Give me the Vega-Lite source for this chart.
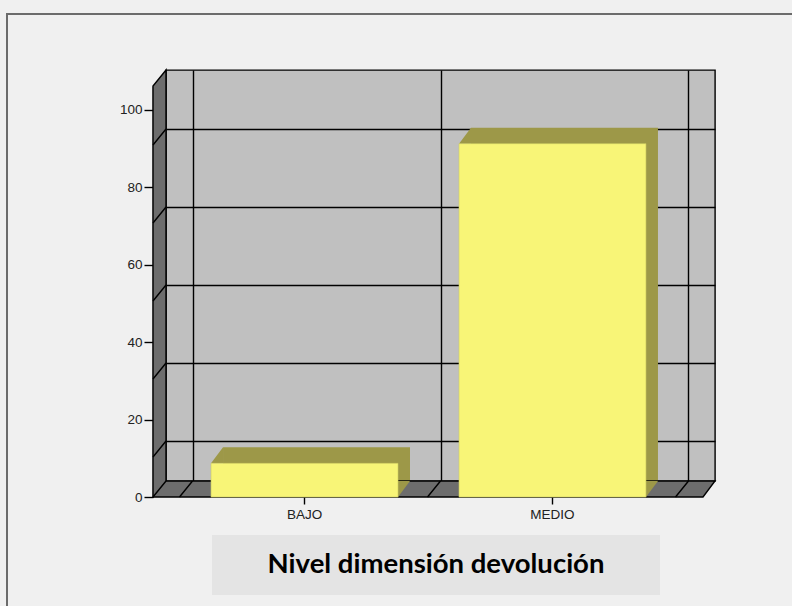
{
  "$schema": "https://vega.github.io/schema/vega-lite/v6.json",
  "width": 549,
  "height": 411,
  "autosize": {"type": "none"},
  "padding": {"left": 166, "top": 70, "right": 77, "bottom": 125},
  "background": "#f0f0f0",
  "config": {
    "view": {"fill": "#c0c0c0", "stroke": "#000000", "strokeWidth": 1.4},
    "axis": {"labelFont": "Liberation Sans", "labelFontSize": 13.5, "labelColor": "#222222", "tickColor": "#000000", "domainColor": "#000000", "domainWidth": 1.4, "gridColor": "#000000", "gridOpacity": 1, "gridWidth": 1.4}
  },
  "data": {"values": [{"nivel": "BAJO", "porcentaje": 8.7}, {"nivel": "MEDIO", "porcentaje": 91.3}]},
  "resolve": {"axis": {"x": "independent", "y": "independent"}},
  "layer": [
    {
      "data": {"values": [{}]},
      "mark": {"type": "point", "shape": "M-433.5,125L-433.5,-467L352,-467", "size": 4, "filled": false, "stroke": "#6b6b6b", "strokeWidth": 2, "opacity": 1},
      "encoding": {"y": {"datum": 0, "type": "quantitative", "axis": null, "scale": {"domain": [0, 106.2], "nice": false, "zero": false}}}
    },
    {
      "mark": {"type": "bar", "fill": "#9d9848", "width": {"band": 0.754}},
      "encoding": {
        "x": {"field": "nivel", "type": "nominal", "sort": ["BAJO", "MEDIO"], "scale": {"domain": ["BAJO", "MEDIO"], "paddingInner": 0, "paddingOuter": 0.107},
          "axis": {"orient": "bottom", "grid": true, "tickBand": "extent", "labels": false, "ticks": false, "domain": false, "title": null}},
        "y": {"field": "porcentaje", "type": "quantitative", "scale": {"domain": [0, 106.2], "nice": false, "zero": false},
          "axis": {"orient": "left", "grid": true, "values": [10.34, 30.49, 50.65, 70.8, 90.96], "labels": false, "ticks": false, "domain": false, "title": null}}
      }
    },
    {
      "data": {"values": [{}]},
      "mark": {"type": "point", "shape": "M-287.5,16L-287.5,-395L-274.5,-411L-274.5,0L274.5,0L262.5,16Z", "size": 4, "filled": true, "fill": "#6d6d6d", "stroke": "#000000", "strokeWidth": 1.4, "opacity": 1},
      "encoding": {"y": {"datum": 0, "type": "quantitative", "axis": null, "scale": {"domain": [0, 106.2], "nice": false, "zero": false}}}
    },
    {
      "data": {"values": [{}]},
      "mark": {"type": "point", "shape": "M-287.5,16L-274.5,0M-261,16L-248,0M-13,16L0,0M235,16L248,0M-287.5,-336L-274.5,-352M-287.5,-258L-274.5,-274M-287.5,-180L-274.5,-196M-287.5,-102L-274.5,-118M-287.5,-24L-274.5,-40", "size": 4, "filled": false, "stroke": "#000000", "strokeWidth": 1.4, "opacity": 1},
      "encoding": {"y": {"datum": 0, "type": "quantitative", "axis": null, "scale": {"domain": [0, 106.2], "nice": false, "zero": false}}}
    },
    {
      "mark": {"type": "point", "shape": "M-105.5,16L-93.5,0L-93.5,16Z", "size": 4, "filled": true, "fill": "#9d9848", "strokeWidth": 0, "opacity": 1},
      "encoding": {
        "x": {"field": "nivel", "type": "nominal", "sort": ["BAJO", "MEDIO"], "scale": {"domain": ["BAJO", "MEDIO"], "paddingInner": 0, "paddingOuter": 0.107}, "axis": null},
        "y": {"field": "porcentaje", "type": "quantitative", "scale": {"domain": [0, 106.2], "nice": false, "zero": false}, "axis": null}
      }
    },
    {
      "mark": {"type": "point", "shape": "M81.5,0L93.5,0L81.5,16Z", "size": 4, "filled": true, "fill": "#9d9848", "strokeWidth": 0, "opacity": 1},
      "encoding": {
        "x": {"field": "nivel", "type": "nominal", "sort": ["BAJO", "MEDIO"], "scale": {"domain": ["BAJO", "MEDIO"], "paddingInner": 0, "paddingOuter": 0.107}, "axis": null},
        "y": {"datum": 0, "type": "quantitative", "scale": {"domain": [0, 106.2], "nice": false, "zero": false}, "axis": null}
      }
    },
    {
      "mark": {"type": "bar", "fill": "#f8f577", "width": {"band": 0.754}, "xOffset": -12, "yOffset": 16, "y2Offset": 16, "stroke": "#cfcc62", "strokeWidth": 0.6},
      "encoding": {
        "x": {"field": "nivel", "type": "nominal", "sort": ["BAJO", "MEDIO"], "scale": {"domain": ["BAJO", "MEDIO"], "paddingInner": 0, "paddingOuter": 0.107},
          "axis": {"orient": "bottom", "position": -12, "offset": 16, "grid": false, "domain": false, "ticks": true, "tickSize": 7, "tickWidth": 1.4, "labelPadding": 3, "labelAngle": 0, "title": null}},
        "y": {"field": "porcentaje", "type": "quantitative", "scale": {"domain": [0, 106.2], "nice": false, "zero": false},
          "axis": {"orient": "left", "position": 16, "offset": 13, "grid": false, "values": [0, 20, 40, 60, 80, 100], "tickSize": 9, "tickWidth": 1.4, "labelPadding": 2, "domain": true, "title": null}}
      }
    },
    {
      "data": {"values": [{}]},
      "mark": {"type": "point", "shape": "M-228.5,-30L219.5,-30L219.5,30L-228.5,30Z", "size": 4, "filled": true, "fill": "#e4e4e4", "strokeWidth": 0, "opacity": 1},
      "encoding": {"y": {"datum": -21.7, "type": "quantitative", "axis": null, "scale": {"domain": [0, 106.2], "nice": false, "zero": false}}}
    },
    {
      "data": {"values": [{}]},
      "mark": {"type": "text", "font": "Lato", "fontWeight": "bold", "fontSize": 27.5, "color": "#000000", "align": "center", "baseline": "middle", "dx": -4.5},
      "encoding": {
        "text": {"value": "Nivel dimensión devolución"},
        "y": {"datum": -21.7, "type": "quantitative", "axis": null, "scale": {"domain": [0, 106.2], "nice": false, "zero": false}}
      }
    }
  ]
}
